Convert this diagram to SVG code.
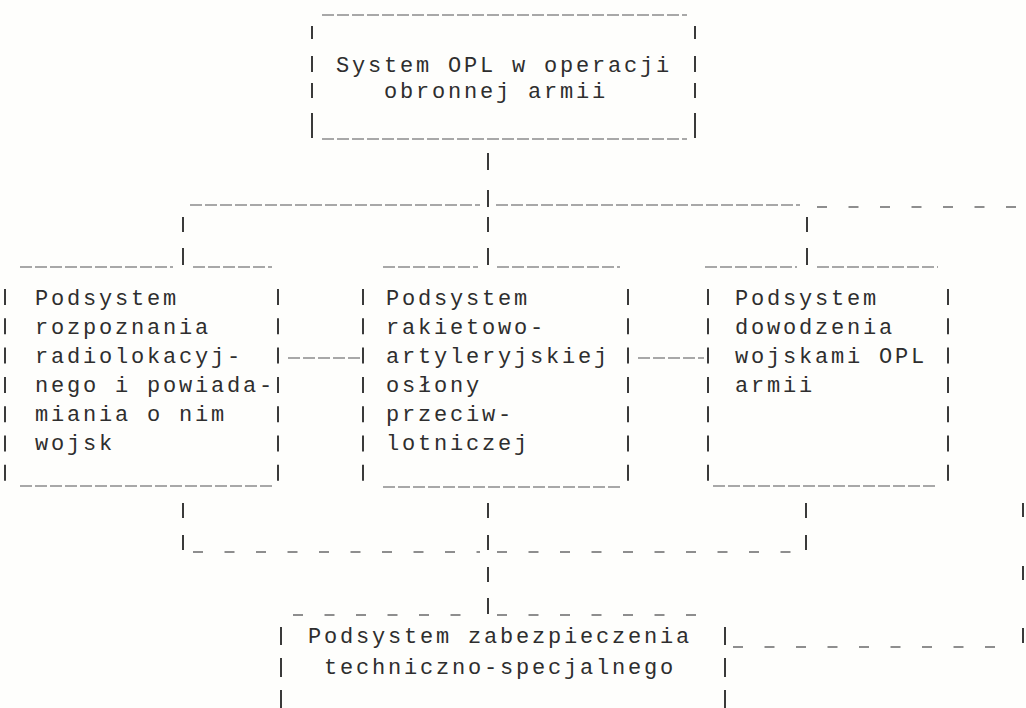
<svg xmlns="http://www.w3.org/2000/svg" width="1026" height="708" viewBox="0 0 1026 708">
<style>
  text { font-family: "Liberation Mono", "DejaVu Sans Mono", monospace; font-size: 22px; letter-spacing: 2.8px; fill: #2e2e2e; }
  .pipe { stroke: #3a3a3a; stroke-width: 2; fill: none; }
  .ul { stroke: #8c8c8c; stroke-width: 1.3; stroke-dasharray: 12 3; fill: none; }
  .dash { stroke: #6a6a6a; stroke-width: 1.6; stroke-dasharray: 10 21.5; fill: none; }
</style>
<rect width="1026" height="708" fill="#fefefc"/>

<g id="connectors">
  <!-- top box down to bus -->
  <path class="pipe" d="M488 153V170M488 190V207"/>
  <path class="ul" d="M190 205H480M496 205H800"/>
  <path class="dash" d="M817 207H1018"/>
  <!-- drops to the three boxes -->
  <path class="pipe" d="M183 217V232M183 248V265M488 217V232M488 248V265M807 217V232M807 248V265"/>
  <!-- between boxes -->
  <path class="ul" d="M288 358H362M638 358H704"/>
  <!-- rises from the three boxes -->
  <path class="pipe" d="M183 503V518M183 535V550M488 503V518M488 535V550M806 503V518M806 535V550"/>
  <path class="dash" d="M193 552H480M497 552H800"/>
  <!-- down to bottom box -->
  <path class="pipe" d="M488 567V582M488 598V614"/>
  <path class="dash" d="M293 615H480M497 615H700"/>
  <!-- right side link -->
  <path class="dash" d="M733 647H1002"/>
  <path class="pipe" d="M1023 503V517M1023 566V580M1023 628V643"/>
</g>

<g id="node-top">
  <path class="ul" d="M322 15H687M322 139H687"/>
  <path class="pipe" d="M312 26V39M312 56V72M312 83V98M312 113V138M695 26V39M695 56V72M695 83V98M695 113V138"/>
  <text x="336" y="72">System OPL w operacji</text>
  <text x="384" y="98">obronnej armii</text>
</g>

<g id="node-rozpoznania">
  <path class="ul" d="M20 267H173M193 267H272M20 486H272"/>
  <path class="pipe" stroke-dasharray="16 13.3" d="M5 289V486M278 289V486"/>
  <text x="35" y="305">Podsystem</text>
  <text x="35" y="334">rozpoznania</text>
  <text x="35" y="363">radiolokacyj-</text>
  <text x="35" y="392">nego i powiada-</text>
  <text x="35" y="421">miania o nim</text>
  <text x="35" y="450">wojsk</text>
</g>

<g id="node-rakietowo">
  <path class="ul" d="M383 267H478M497 267H620M383 487H620"/>
  <path class="pipe" stroke-dasharray="16 13.3" d="M363 289V487M628 289V487"/>
  <text x="386" y="305">Podsystem</text>
  <text x="386" y="334">rakietowo-</text>
  <text x="386" y="363">artyleryjskiej</text>
  <text x="386" y="392">osłony</text>
  <text x="386" y="421">przeciw-</text>
  <text x="386" y="450">lotniczej</text>
</g>

<g id="node-dowodzenia">
  <path class="ul" d="M705 267H797M817 267H938M713 486H938"/>
  <path class="pipe" stroke-dasharray="16 13.3" d="M708 289V486M948 289V486"/>
  <text x="735" y="305">Podsystem</text>
  <text x="735" y="334">dowodzenia</text>
  <text x="735" y="363">wojskami OPL</text>
  <text x="735" y="392">armii</text>
</g>

<g id="node-zabezpieczenia">
  <path class="pipe" d="M281 627V645M281 658V677M281 690V708M725 627V645M725 658V677M725 690V708"/>
  <text x="308" y="643">Podsystem zabezpieczenia</text>
  <text x="324" y="674">techniczno-specjalnego</text>
</g>
</svg>
